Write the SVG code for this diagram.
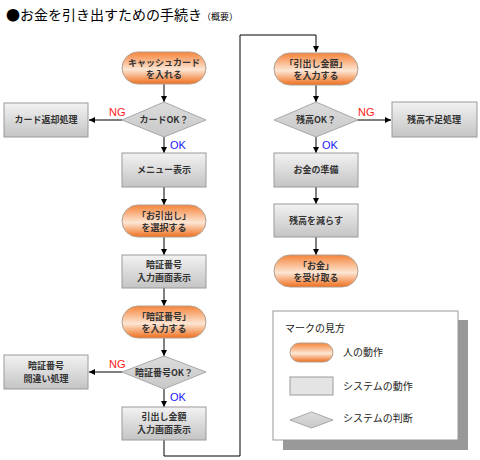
<svg xmlns="http://www.w3.org/2000/svg" width="480" height="460" viewBox="0 0 480 460">
<defs>
<linearGradient id="gOr" x1="0" y1="0" x2="0" y2="1">
<stop offset="0" stop-color="#f5843a"/>
<stop offset="0.55" stop-color="#fde6d4"/>
<stop offset="1" stop-color="#ef6e1c"/>
</linearGradient>
<linearGradient id="gGr" x1="0" y1="0" x2="0" y2="1">
<stop offset="0" stop-color="#f2f2f2"/>
<stop offset="1" stop-color="#c4c4c4"/>
</linearGradient>
<linearGradient id="gDi" x1="0" y1="0" x2="0" y2="1">
<stop offset="0" stop-color="#dcdcdc"/>
<stop offset="1" stop-color="#c8c8c8"/>
</linearGradient>
<marker id="ah" viewBox="0 0 10 10" refX="10" refY="5" markerWidth="6" markerHeight="7" orient="auto" markerUnits="userSpaceOnUse">
<path d="M0,0 L10,5 L0,10 z" fill="#000"/>
</marker>
</defs>
<style>
.term{fill:url(#gOr);stroke:#b0a090;stroke-width:1}
.box{fill:url(#gGr);stroke:#9a9a9a;stroke-width:1}
.dia{fill:url(#gDi);stroke:#a8a8a8;stroke-width:1}
.t{font-family:"Noto Sans CJK JP","Noto Sans",sans-serif;font-size:9px;font-weight:bold;fill:#333;text-anchor:middle}
.lt{font-family:"Noto Sans CJK JP","Noto Sans",sans-serif;font-size:10px;fill:#222}
.ng{font-family:"Liberation Sans",Arial,sans-serif;font-size:11px;fill:#ff1a1a}
.ok{font-family:"Liberation Sans",Arial,sans-serif;font-size:11px;fill:#1a1aff}
.c{fill:none;stroke:#000;stroke-width:1}
</style>
<rect width="480" height="460" fill="#fff"/>
<text x="6" y="20" font-family="'Noto Sans CJK JP','Noto Sans',sans-serif" font-size="14" fill="#000">●お金を引き出すための手続き<tspan font-size="9">（概要）</tspan></text>

<g id="connectors">
<line class="c" x1="164" y1="84" x2="164" y2="102" marker-end="url(#ah)"/>
<line class="c" x1="122" y1="120" x2="89" y2="120" marker-end="url(#ah)"/>
<line class="c" x1="164" y1="137" x2="164" y2="153" marker-end="url(#ah)"/>
<line class="c" x1="164" y1="187" x2="164" y2="205" marker-end="url(#ah)"/>
<line class="c" x1="164" y1="237" x2="164" y2="255" marker-end="url(#ah)"/>
<line class="c" x1="164" y1="288" x2="164" y2="306" marker-end="url(#ah)"/>
<line class="c" x1="164" y1="338" x2="164" y2="356" marker-end="url(#ah)"/>
<line class="c" x1="122" y1="372" x2="89" y2="372" marker-end="url(#ah)"/>
<line class="c" x1="164" y1="389" x2="164" y2="407" marker-end="url(#ah)"/>
<polyline class="c" points="164,440 164,456 240,456 240,35 316,35 316,52" marker-end="url(#ah)"/>
<line class="c" x1="316" y1="85" x2="316" y2="102" marker-end="url(#ah)"/>
<line class="c" x1="357" y1="120" x2="391" y2="120" marker-end="url(#ah)"/>
<line class="c" x1="316" y1="137" x2="316" y2="153" marker-end="url(#ah)"/>
<line class="c" x1="316" y1="187" x2="316" y2="204" marker-end="url(#ah)"/>
<line class="c" x1="316" y1="237" x2="316" y2="255" marker-end="url(#ah)"/>
<text class="ng" x="109" y="116">NG</text>
<text class="ok" x="170" y="149">OK</text>
<text class="ng" x="109" y="368">NG</text>
<text class="ok" x="170" y="401">OK</text>
<text class="ng" x="358" y="116">NG</text>
<text class="ok" x="322" y="149">OK</text>
</g>

<g id="n1"><rect class="term" x="122" y="52" width="84" height="32" rx="16"/><text class="t" x="164" y="66">キャッシュカード</text><text class="t" x="164" y="78">を入れる</text></g>
<g id="n2"><polygon class="dia" points="164,102 206,120 164,137 122,120"/><text class="t" x="164" y="123">カードOK？</text></g>
<g id="n3"><rect class="box" x="4" y="103" width="84" height="34"/><text class="t" x="46" y="123">カード返却処理</text></g>
<g id="n4"><rect class="box" x="122" y="153" width="84" height="34"/><text class="t" x="164" y="173">メニュー表示</text></g>
<g id="n5"><rect class="term" x="122" y="205" width="84" height="32" rx="16"/><text class="t" x="164" y="219">「お引出し」</text><text class="t" x="164" y="231">を選択する</text></g>
<g id="n6"><rect class="box" x="122" y="255" width="84" height="33"/><text class="t" x="164" y="268">暗証番号</text><text class="t" x="164" y="281">入力画面表示</text></g>
<g id="n7"><rect class="term" x="122" y="306" width="84" height="32" rx="16"/><text class="t" x="164" y="320">「暗証番号」</text><text class="t" x="164" y="332">を入力する</text></g>
<g id="n8"><polygon class="dia" points="164,356 206,372 164,389 122,372"/><text class="t" x="164" y="376">暗証番号OK？</text></g>
<g id="n9"><rect class="box" x="4" y="355" width="84" height="34"/><text class="t" x="46" y="369">暗証番号</text><text class="t" x="46" y="382">間違い処理</text></g>
<g id="n10"><rect class="box" x="122" y="407" width="84" height="33"/><text class="t" x="164" y="420">引出し金額</text><text class="t" x="164" y="433">入力画面表示</text></g>
<g id="n11"><rect class="term" x="274" y="53" width="84" height="32" rx="16"/><text class="t" x="316" y="67">「引出し金額」</text><text class="t" x="316" y="79">を入力する</text></g>
<g id="n12"><polygon class="dia" points="316,102 358,120 316,137 274,120"/><text class="t" x="316" y="123">残高OK？</text></g>
<g id="n13"><rect class="box" x="392" y="102" width="85" height="35"/><text class="t" x="434" y="123">残高不足処理</text></g>
<g id="n14"><rect class="box" x="274" y="153" width="84" height="34"/><text class="t" x="316" y="173">お金の準備</text></g>
<g id="n15"><rect class="box" x="274" y="204" width="84" height="33"/><text class="t" x="316" y="224">残高を減らす</text></g>
<g id="n16"><rect class="term" x="274" y="255" width="84" height="32" rx="16"/><text class="t" x="316" y="269">「お金」</text><text class="t" x="316" y="281">を受け取る</text></g>

<g id="legend">
<rect x="283" y="320" width="185" height="130" fill="#999"/>
<rect x="273" y="311" width="185" height="129" fill="#fff" stroke="#999" stroke-width="1"/>
<text class="lt" x="285" y="332">マークの見方</text>
<rect class="term" x="290" y="343" width="43" height="19" rx="9.5"/>
<text class="lt" x="343" y="356">人の動作</text>
<rect x="290" y="377" width="43" height="18" fill="#e4e4e4" stroke="#9a9a9a"/>
<text class="lt" x="343" y="390">システムの動作</text>
<polygon class="dia" points="311.5,412 333,420 311.5,428 290,420"/>
<text class="lt" x="343" y="422">システムの判断</text>
</g>
</svg>
